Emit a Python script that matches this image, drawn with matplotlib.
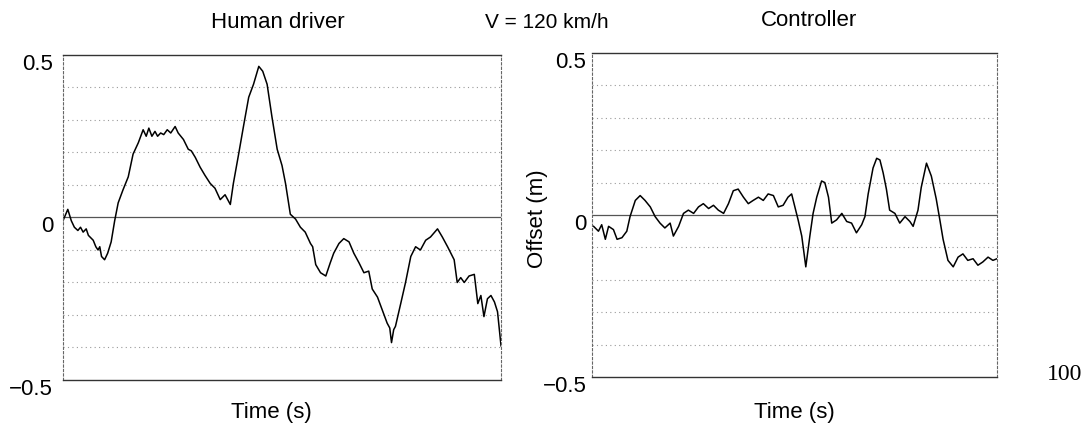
import numpy as np
import matplotlib.pyplot as plt
from matplotlib.transforms import ScaledTranslation

plt.rcParams['font.family'] = ['Liberation Sans', 'DejaVu Sans']

# lateral offset (m) vs time (s)
human_t = [0, 1.1, 1.9, 2.6, 3.4, 4.0, 4.6, 5.3, 5.8, 6.9, 7.5, 8.0, 8.4, 8.8, 9.5,
           10.2, 11.0, 11.8, 12.6, 13.7, 14.9, 16.0, 17.2, 18.3, 19.0, 19.6, 20.3,
           21.0, 21.6, 22.3, 23.0, 23.8, 24.6, 25.6, 26.3, 27.5, 28.6, 29.3, 30.2,
           31.3, 32.4, 33.6, 34.7, 35.9, 37.0, 38.2, 38.9, 40.1, 41.2, 42.4, 43.5,
           44.7, 45.6, 46.6, 47.7, 48.9, 50.0, 50.8, 51.9, 53.1, 54.2, 55.3, 56.5,
           57.0, 57.7, 58.8, 60.0, 60.5, 61.0, 61.8, 63.0, 64.1, 65.3, 66.4, 67.6,
           68.7, 69.8, 70.6, 71.8, 72.9, 74.0, 74.6, 75.0, 75.5, 75.9, 77.1, 78.2,
           79.4, 80.5, 81.6, 82.8, 83.9, 85.5, 86.6, 87.8, 89.3, 90.0, 90.8, 91.6,
           92.7, 93.9, 94.7, 95.4, 96.1, 96.9, 97.7, 98.5, 99.2, 100]
human_y = [-0.01, 0.025, -0.01, -0.03, -0.04, -0.03, -0.045, -0.035, -0.055, -0.07,
           -0.09, -0.10, -0.09, -0.12, -0.13, -0.11, -0.075, -0.01, 0.045, 0.085,
           0.125, 0.195, 0.23, 0.27, 0.25, 0.275, 0.25, 0.265, 0.25, 0.26, 0.255,
           0.27, 0.26, 0.28, 0.26, 0.24, 0.21, 0.205, 0.185, 0.155, 0.13, 0.105,
           0.09, 0.055, 0.07, 0.04, 0.105, 0.195, 0.28, 0.37, 0.41, 0.465, 0.45,
           0.41, 0.31, 0.21, 0.16, 0.105, 0.01, -0.005, -0.03, -0.045, -0.08, -0.09,
           -0.145, -0.17, -0.18, -0.16, -0.14, -0.11, -0.08, -0.065, -0.075, -0.11,
           -0.14, -0.17, -0.165, -0.22, -0.245, -0.285, -0.325, -0.34, -0.385,
           -0.345, -0.335, -0.265, -0.2, -0.12, -0.09, -0.1, -0.07, -0.06, -0.035,
           -0.06, -0.09, -0.13, -0.2, -0.185, -0.2, -0.18, -0.175, -0.265, -0.24,
           -0.305, -0.25, -0.24, -0.26, -0.29, -0.395]

ctrl_t = [0.4, 1.6, 2.4, 3.3, 4.1, 5.3, 6.2, 7.4, 8.6, 9.4, 10.7, 11.9, 13.1, 14.4,
          15.6, 16.8, 18.0, 19.3, 20.1, 21.4, 22.6, 23.8, 25.1, 26.3, 27.5, 28.8,
          30.0, 31.2, 32.5, 33.7, 34.9, 36.1, 37.4, 38.6, 39.8, 41.1, 42.3, 43.5,
          44.8, 46.0, 47.2, 48.4, 49.3, 50.1, 50.9, 51.8, 52.8, 53.8, 54.6, 55.5,
          56.7, 57.5, 58.4, 59.2, 60.4, 61.7, 62.9, 64.1, 65.3, 66.6, 67.4, 68.2,
          69.4, 70.3, 71.1, 71.9, 72.7, 73.5, 74.8, 76.0, 77.3, 78.5, 79.3, 80.5,
          81.3, 82.6, 83.8, 85.0, 85.9, 86.7, 87.9, 89.2, 90.4, 91.6, 92.8, 94.1,
          95.3, 96.5, 97.8, 99.0, 100.0]
ctrl_y = [-0.035, -0.05, -0.03, -0.075, -0.035, -0.045, -0.075, -0.07, -0.05, -0.005,
          0.045, 0.06, 0.045, 0.025, -0.005, -0.025, -0.04, -0.025, -0.065, -0.035,
          0.005, 0.015, 0.005, 0.025, 0.035, 0.02, 0.03, 0.015, 0.005, 0.035, 0.075,
          0.08, 0.055, 0.035, 0.045, 0.055, 0.045, 0.065, 0.06, 0.025, 0.03, 0.055,
          0.065, 0.025, -0.015, -0.065, -0.16, -0.065, 0.005, 0.055, 0.105, 0.1,
          0.055, -0.025, -0.015, 0.005, -0.02, -0.025, -0.055, -0.03, -0.005, 0.065,
          0.145, 0.175, 0.17, 0.13, 0.08, 0.015, 0.005, -0.025, -0.005, -0.02,
          -0.035, 0.015, 0.085, 0.16, 0.12, 0.05, -0.015, -0.075, -0.14, -0.16,
          -0.13, -0.12, -0.14, -0.135, -0.155, -0.145, -0.13, -0.14, -0.135]

ytick_vals = [-0.5, 0, 0.5]
ytick_text = ['\u22120.5', '0', '0.5']

fig = plt.figure(figsize=(10.84, 4.32), dpi=100)
ax1 = fig.add_axes([0.0581, 0.1204, 0.4041, 0.7523])
ax2 = fig.add_axes([0.5461, 0.1273, 0.3736, 0.7500])

for ax, t, y, pad in [(ax1, human_t, human_y, 7), (ax2, ctrl_t, ctrl_y, 4)]:
    for lev in np.arange(-0.4, 0.45, 0.1):
        if abs(lev) < 1e-9:
            continue
        ax.axhline(lev, color='#9a9a9a', lw=0.8, ls=(0, (1, 3)))
    ax.axhline(0, color='#555555', lw=0.9)
    ax.plot(t, y, color='black', lw=1.1)
    ax.set_xlim(0, 100)
    ax.set_ylim(-0.5, 0.5)
    ax.set_xticks([])
    ax.set_yticks(ytick_vals)
    ax.set_yticklabels(ytick_text, fontsize=16)
    ax.tick_params(axis='y', length=0, pad=pad)
    # scanned labels sit a little below their gridline
    for lbl in ax.get_yticklabels():
        lbl.set_transform(lbl.get_transform() +
                          ScaledTranslation(0, -5 / 72, fig.dpi_scale_trans))
    for s in ['top', 'bottom']:
        ax.spines[s].set_color('#333333')
        ax.spines[s].set_linewidth(1.0)
    for s in ['left', 'right']:
        ax.spines[s].set_color('#666666')
        ax.spines[s].set_linewidth(0.8)
        ax.spines[s].set_linestyle((0, (2, 2)))

fig.text(0.496, 0.493, 'Offset (m)', fontsize=16, rotation=90,
         ha='center', va='center')

fig.text(0.256, 0.948, 'Human driver', fontsize=16, ha='center', va='center')
fig.text(0.504, 0.948, 'V = 120 km/h', fontsize=15, ha='center', va='center')
fig.text(0.746, 0.952, 'Controller', fontsize=16, ha='center', va='center')
fig.text(0.250, 0.044, 'Time (s)', fontsize=16, ha='center', va='center')
fig.text(0.733, 0.046, 'Time (s)', fontsize=16, ha='center', va='center')
fig.text(0.9825, 0.132, '100', fontsize=17, ha='center', va='center',
         family='Liberation Serif')

plt.savefig('out.png', dpi=100)
